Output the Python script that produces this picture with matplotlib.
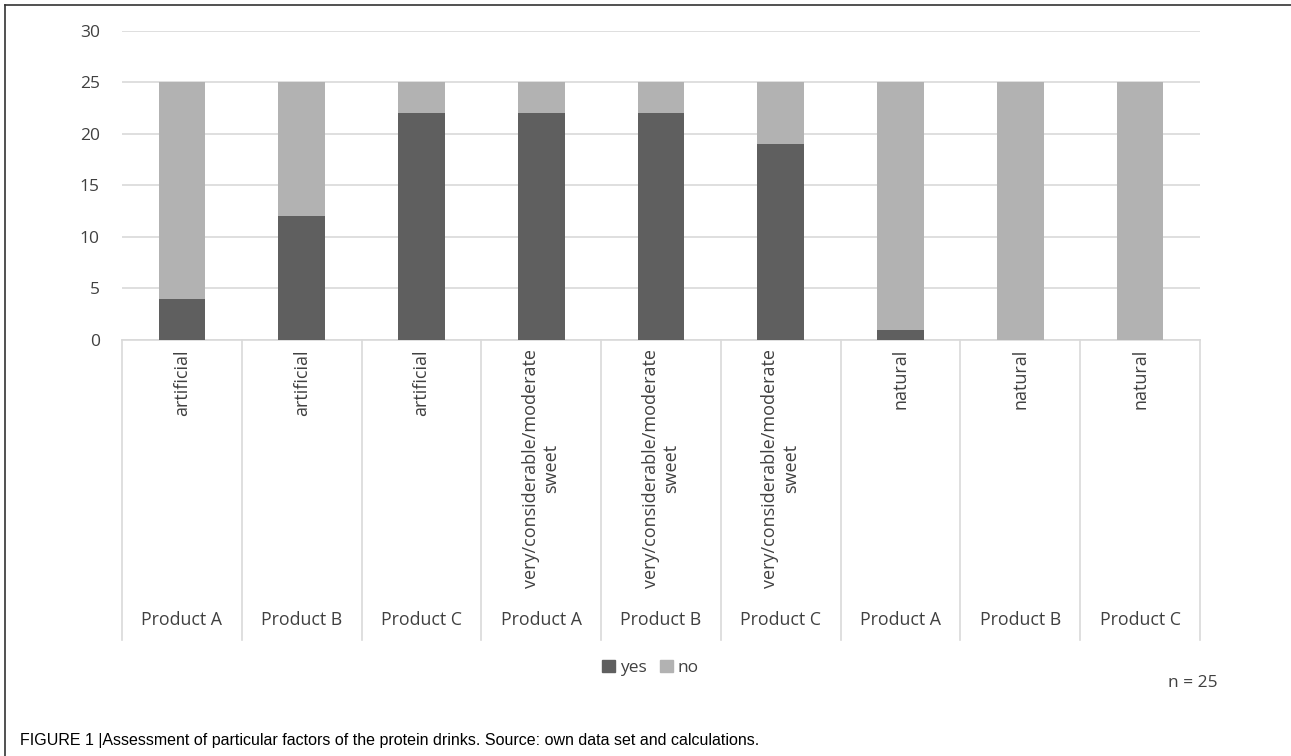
import numpy as np
import matplotlib.pyplot as plt
from matplotlib.transforms import blended_transform_factory
from matplotlib.patches import Patch
from matplotlib.lines import Line2D

plt.rcParams['font.family'] = ['Open Sans', 'DejaVu Sans']

# data (n = 25 respondents per product)
factors = ['artificial', 'artificial', 'artificial',
           'very/considerable/moderate\nsweet', 'very/considerable/moderate\nsweet',
           'very/considerable/moderate\nsweet',
           'natural', 'natural', 'natural']
products = ['Product A', 'Product B', 'Product C'] * 3
yes = [4, 12, 22, 22, 22, 19, 1, 0, 0]
no = [21, 13, 3, 3, 3, 6, 24, 25, 25]

c_yes = '#5f5f5f'
c_no = '#b2b2b2'
c_txt = '#404040'
c_grid = '#d9d9d9'

fig = plt.figure(figsize=(12.91, 7.56), dpi=100)
ax = fig.add_axes([0.0945, 0.5503, 0.835, 0.4087])

x = np.arange(len(yes))
ax.bar(x, yes, width=0.39, color=c_yes, zorder=3)
ax.bar(x, no, width=0.39, bottom=yes, color=c_no, zorder=3)

ax.set_xlim(-0.5, len(yes) - 0.5)
ax.set_ylim(0, 30)
ax.set_yticks(range(0, 31, 5))
ax.yaxis.grid(True, color=c_grid, linewidth=1.2, zorder=0)
ax.tick_params(axis='y', length=0, pad=16, labelsize=12.5, labelcolor=c_txt)
ax.set_xticks([])
for s in ['top', 'right', 'left']:
    ax.spines[s].set_visible(False)
ax.spines['bottom'].set_color(c_grid)
ax.spines['bottom'].set_linewidth(1.2)

# category table below the axis
tr = blended_transform_factory(ax.transData, ax.transAxes)
depth = -0.971
for b in np.arange(-0.5, len(yes)):
    ax.add_line(Line2D([b, b], [0, depth], transform=tr, color=c_grid,
                       linewidth=1.2, clip_on=False))
for i in range(len(yes)):
    ax.text(i, -0.03, factors[i], transform=tr, rotation=90, ha='center', va='top',
            multialignment='center', fontsize=13, color=c_txt)
    ax.text(i, -0.905, products[i], transform=tr, ha='center', va='center',
            fontsize=12.8, color=c_txt)

handles = [Patch(color=c_yes, label='yes'), Patch(color=c_no, label='no')]
fig.legend(handles=handles, loc='center', bbox_to_anchor=(0.504, 0.116), ncol=2,
           frameon=False, fontsize=12.5, labelcolor=c_txt, handlelength=0.7,
           handleheight=0.7, handletextpad=0.3, columnspacing=0.8)

fig.text(0.943, 0.097, 'n = 25', ha='right', va='center', fontsize=12.5, color=c_txt)

fig.text(0.0155, 0.021, 'FIGURE 1 |Assessment of particular factors of the protein drinks. '
         'Source: own data set and calculations.', ha='left', va='center',
         fontsize=11.5, color='black', family=['Liberation Sans', 'DejaVu Sans'])

# frame around the figure (left and top edges visible)
fig.add_artist(Line2D([5 / 1291, 5 / 1291], [0, 1 - 5 / 756], color='#333333',
                      linewidth=1.2, transform=fig.transFigure))
fig.add_artist(Line2D([5 / 1291, 1], [1 - 5 / 756, 1 - 5 / 756], color='#333333',
                      linewidth=1.2, transform=fig.transFigure))

plt.savefig('out.png', dpi=100)
